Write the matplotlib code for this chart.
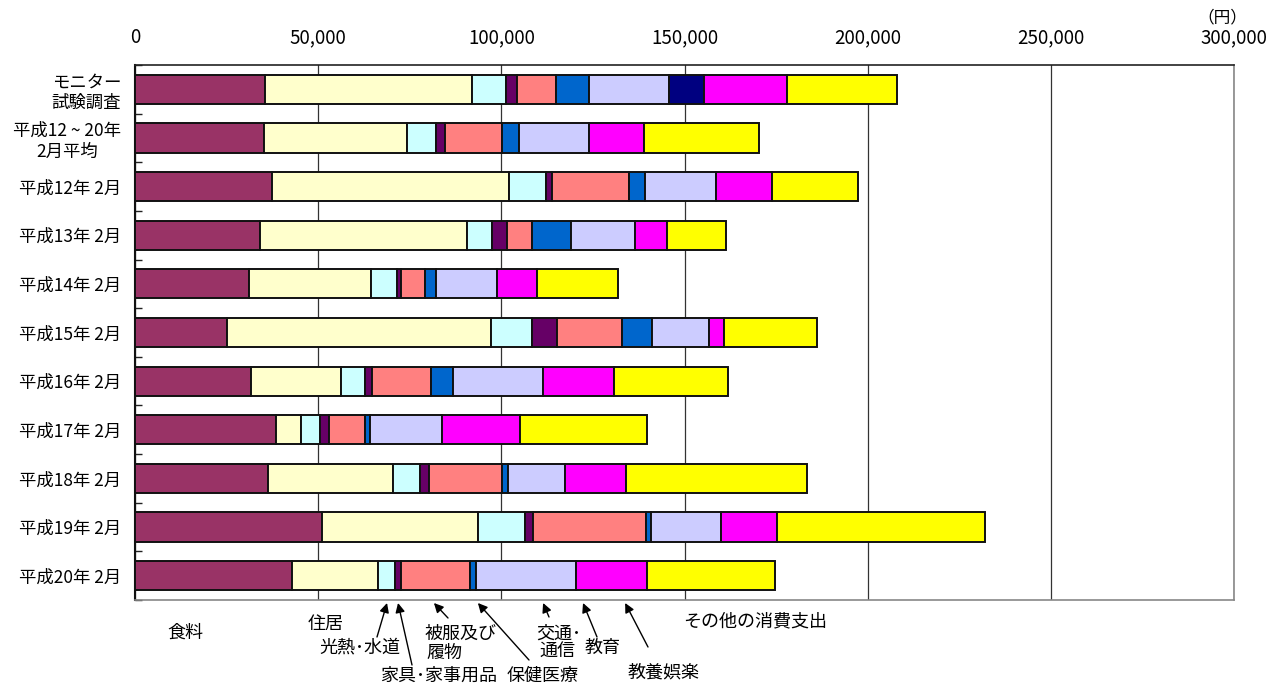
import matplotlib.pyplot as plt
import numpy as np

plt.rcParams['font.family'] = ['Noto Sans CJK JP', 'DejaVu Sans']

# rows, top to bottom
periods = ['モニター\n試験調査', '平成12 ~ 20年\n2月平均', '平成12年 2月', '平成13年 2月',
           '平成14年 2月', '平成15年 2月', '平成16年 2月', '平成17年 2月',
           '平成18年 2月', '平成19年 2月', '平成20年 2月']

items = ['食料', '住居', '光熱・水道', '家具・家事用品', '被服及び履物',
         '保健医療', '交通・通信', '教育', '教養娯楽', 'その他の消費支出']
colors = ['#993366', '#FFFFCC', '#CCFFFF', '#660066', '#FF8080',
          '#0066CC', '#CCCCFF', '#000080', '#FF00FF', '#FFFF00']

# 円
food      = [35500, 35200, 37500, 34100, 31100, 25100, 31600, 38500, 36400, 51100, 42900]
housing   = [56400, 39100, 64500, 56600, 33400, 72000, 24700, 6800, 34100, 42500, 23500]
utilities = [9300, 7900, 10300, 6800, 7000, 11200, 6600, 5300, 7300, 12900, 4600]
furniture = [3200, 2500, 1500, 4000, 1100, 6800, 1900, 2400, 2500, 2200, 1700]
clothing  = [10400, 15600, 21100, 6800, 6600, 17900, 15900, 9700, 19800, 30700, 18700]
medical   = [9000, 4500, 4300, 10800, 2900, 8000, 6100, 1500, 1800, 1400, 1800]
transport = [22100, 19200, 19500, 17500, 16600, 15800, 24600, 19600, 15600, 19100, 27100]
education = [9300, 0, 0, 0, 0, 0, 0, 0, 0, 0, 0]
culture   = [22900, 15000, 15300, 8700, 10900, 4100, 19400, 21300, 16400, 15400, 19400]
other     = [29800, 31300, 23300, 16100, 22300, 25300, 31200, 34600, 49500, 56600, 35100]

series = [food, housing, utilities, furniture, clothing, medical,
          transport, education, culture, other]

fig = plt.figure(figsize=(12.75, 6.85), dpi=100)
ax = fig.add_axes([135/1275, 1 - 600/685, (1234 - 135)/1275, (600 - 65)/685])

y = np.arange(len(periods))
left = np.zeros(len(periods))
for vals, c, name in zip(series, colors, items):
    vals = np.array(vals)
    ax.barh(y, vals, left=left, height=0.6, color=c, edgecolor='#111111',
            linewidth=1.4, label=name, zorder=3)
    left += vals

ax.set_xlim(0, 300000)
ax.set_ylim(len(periods) - 0.5, -0.5)
ax.xaxis.tick_top()
ax.set_xticks(np.arange(0, 300001, 50000))
ax.set_xticklabels([f'{v:,}' for v in range(0, 300001, 50000)], fontsize=13.5)
ax.tick_params(axis='x', length=0, pad=12)
ax.set_yticks(y)
ax.set_yticklabels(periods, fontsize=12.5, multialignment='center')
ax.tick_params(axis='y', length=0, pad=10)
ax.set_yticks(np.arange(len(periods) + 1) - 0.5, minor=True)
ax.tick_params(axis='y', which='minor', direction='in', length=5, width=1, color='#222222')
ax.grid(axis='x', color='#333333', linewidth=0.9, zorder=1)

ax.spines['left'].set_color('#111111')
ax.spines['left'].set_linewidth(1.5)
ax.spines['top'].set_color('#222222')
ax.spines['top'].set_linewidth(1.2)
ax.spines['right'].set_color('#888888')
ax.spines['right'].set_linewidth(1.2)
ax.spines['bottom'].set_color('#888888')
ax.spines['bottom'].set_linewidth(1.2)

fig.text(1222/1275, 1 - 18/685, '（円）', ha='center', va='center', fontsize=12)

# labels under the chart
H = 685
fs = 13
texts = [
    ('食料', 185, 633),
    ('住居', 326, 624),
    ('光熱･水道', 360, 648),
    ('家具･家事用品', 439, 676),
    ('被服及び', 461, 634),
    ('履物', 444, 653),
    ('保健医療', 543, 676),
    ('交通･', 559, 634),
    ('通信', 557, 651),
    ('教育', 603, 648),
    ('教養娯楽', 664, 672),
    ('その他の消費支出', 755, 621),
]
for s, px, py in texts:
    fig.text(px/1275, 1 - py/H, s, ha='center', va='center', fontsize=fs)

arrows = [
    (68800, 377, 637),
    (71800, 412, 665),
    (81600, 448, 618),
    (93600, 529, 660),
    (111400, 549, 617),
    (122300, 597, 637),
    (133800, 648, 647),
]
for xv, tx, ty in arrows:
    ax.annotate('', xy=(xv, 1 - 603/H), xycoords=('data', 'figure fraction'),
                xytext=(tx/1275, 1 - ty/H), textcoords='figure fraction',
                arrowprops=dict(arrowstyle='-|>', color='black', lw=1.0,
                                mutation_scale=14, shrinkA=0, shrinkB=0),
                annotation_clip=False)

fig.savefig('out.png', dpi=100)
